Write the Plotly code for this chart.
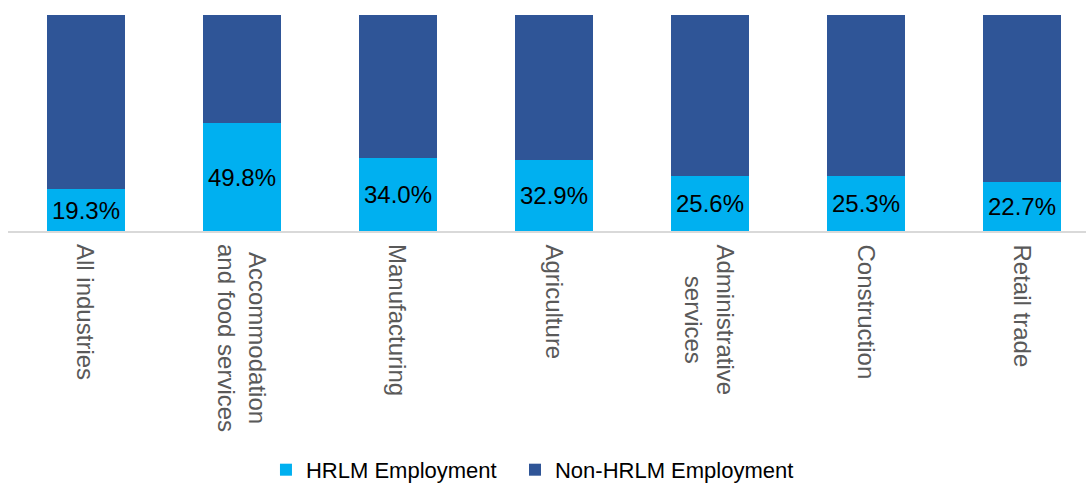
import plotly.graph_objects as go

# Share of employment by industry (percent)
industries = [
    "All industries",
    "Accommodation<br>and food services",
    "Manufacturing",
    "Agriculture",
    "Administrative<br>services",
    "Construction",
    "Retail trade",
]
hrlm_share = [19.3, 49.8, 34.0, 32.9, 25.6, 25.3, 22.7]
non_hrlm_share = [80.7, 50.2, 66.0, 67.1, 74.4, 74.7, 77.3]

FONT = "Liberation Sans, Arial, sans-serif"
LEGEND_FONT = dict(family=FONT, size=22, color="#000000")

fig = go.Figure()
fig.add_trace(go.Bar(
    name="HRLM Employment",
    x=industries,
    y=hrlm_share,
    marker=dict(color="#00B0F0", line=dict(width=0)),
    width=0.5,
    texttemplate="%{y:.1f}%",
    textposition="inside",
    insidetextanchor="middle",
    constraintext="none",
    textfont=dict(family=FONT, size=24, color="#000000"),
    hoverinfo="skip",
    legend="legend",
))
fig.add_trace(go.Bar(
    name="Non-HRLM Employment",
    x=industries,
    y=non_hrlm_share,
    marker=dict(color="#2F5597", line=dict(width=0)),
    width=0.5,
    hoverinfo="skip",
    legend="legend2",
))

# Rotated category labels, with wrapped lines centred on each other
for name in industries:
    fig.add_annotation(
        x=name, xref="x",
        y=0, yref="paper",
        yanchor="top", xanchor="center",
        yshift=-11,
        text=name,
        textangle=90,
        align="center",
        showarrow=False,
        font=dict(family=FONT, size=24, color="#595959"),
    )

fig.update_layout(
    barmode="stack",
    width=1086,
    height=485,
    margin=dict(l=8, r=0, t=15, b=254, autoexpand=False),
    paper_bgcolor="white",
    plot_bgcolor="white",
    font=dict(family=FONT),
    showlegend=True,
    legend=dict(
        orientation="h",
        x=0.2393, xanchor="left",
        y=-1.106, yanchor="middle",
        font=LEGEND_FONT,
        itemwidth=30,
    ),
    legend2=dict(
        orientation="h",
        x=0.4703, xanchor="left",
        y=-1.106, yanchor="middle",
        font=LEGEND_FONT,
        itemwidth=30,
    ),
    xaxis=dict(
        range=[-0.5, -0.5 + 1078 / 156],
        showticklabels=False,
        showline=True,
        linecolor="#D9D9D9",
        linewidth=1.5,
        ticks="",
        showgrid=False,
        fixedrange=True,
    ),
    yaxis=dict(
        range=[0, 100],
        visible=False,
        fixedrange=True,
    ),
)

fig.write_html("out.html")
